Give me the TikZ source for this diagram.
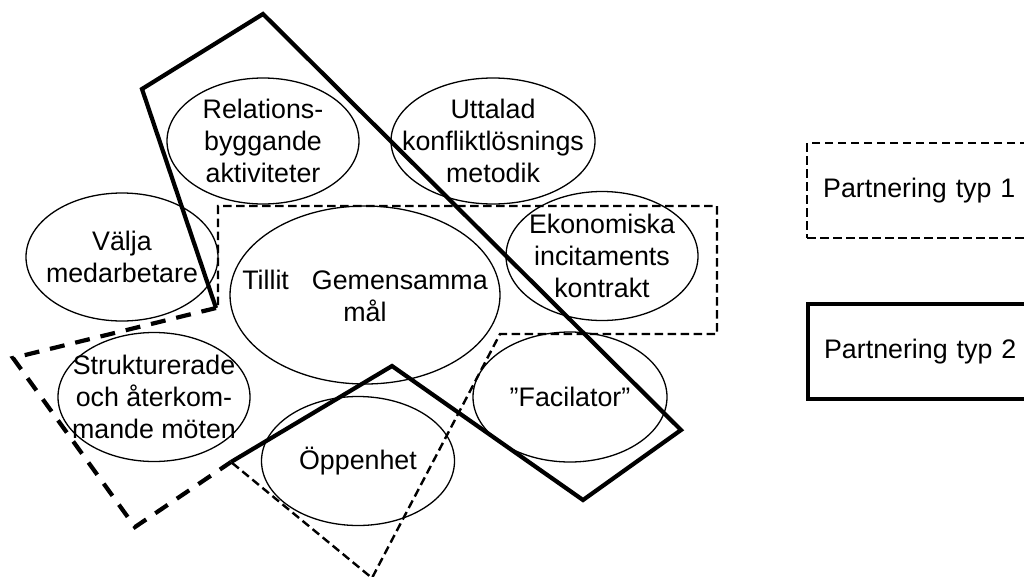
\documentclass[tikz,border=0pt]{standalone}
\usepackage{fontspec}
\setmainfont{Liberation Sans}
\usetikzlibrary{shapes.geometric}

\tikzset{
  blob/.style={draw, ellipse, line width=1.3pt, inner sep=0pt},
  lbl/.style={font=\fontsize{26.8}{32}\selectfont, align=center, inner sep=0pt},
  typone/.style={line width=2.4pt, dash pattern=on 8.5pt off 4.5pt, line join=miter},
  typonebold/.style={line width=4.2pt, dash pattern=on 15pt off 11pt, line join=miter},
  typtwo/.style={line width=4.2pt, line join=miter},
  legendbox/.style={rectangle, font=\fontsize{26.8}{32}\selectfont, text width=200pt,
    align=left, inner xsep=16pt, minimum height=95pt, anchor=north west}
}

\begin{document}
\begin{tikzpicture}[x=1pt, y=-1pt]
  \useasboundingbox (0,0) rectangle (1024,576);
  \clip (0,0) rectangle (1024,576);

  % factor ellipses
  \node[blob, minimum width=192pt, minimum height=126pt] (rel) at (263,141) {};
  \node[lbl] (relt) at (rel.center) {Relations-\\byggande\\aktiviteter};

  \node[blob, minimum width=204pt, minimum height=126pt] (utt) at (493,141) {};
  \node[lbl] (uttt) at (utt.center) {Uttalad\\konfliktlösnings\\metodik};

  \node[blob, minimum width=192pt, minimum height=128pt] (val) at (122,257) {};
  \node[lbl] (valt) at (val.center) {Välja\\medarbetare};

  \node[blob, minimum width=270pt, minimum height=178pt] (gem) at (365,295) {};
  \node[lbl] (gemt) at ([yshift=-1pt]gem.center) {Tillit\hspace{23pt}Gemensamma\\mål};

  \node[blob, minimum width=192pt, minimum height=129pt] (eko) at (602,256) {};
  \node[lbl] (ekot) at (eko.center) {Ekonomiska\\incitaments\\kontrakt};

  \node[blob, minimum width=192pt, minimum height=129pt] (str) at (154,397) {};
  \node[lbl] (strt) at (str.center) {Strukturerade\\och återkom-\\mande möten};

  \node[blob, minimum width=193pt, minimum height=129pt] (opp) at (358,461) {};
  \node[lbl] (oppt) at (opp.center) {Öppenhet};

  \node[blob, minimum width=194pt, minimum height=130pt] (fac) at (570,397) {};
  \node[lbl] (fact) at (fac.center) {”Facilator”};

  % corner points of the grouping outlines
  \coordinate (j1) at (216,308);
  \coordinate (j2) at (231,462);
  \coordinate (a1) at (218,206);
  \coordinate (a2) at (717,206);
  \coordinate (a3) at (717,334);
  \coordinate (a4) at (500,334);
  \coordinate (a5) at (372,578);
  \coordinate (b1) at (13,358);
  \coordinate (b2) at (135,527);
  \coordinate (c1) at (392,366);
  \coordinate (c2) at (583,500);
  \coordinate (c3) at (681,430);
  \coordinate (c4) at (263,14);
  \coordinate (c5) at (142,89);

  % partnering type 1 outline
  \draw[typone] (218,305) -- (a1) -- (a2) -- (a3) -- (a4) -- (a5) -- (j2);
  \draw[typonebold] (j1) -- (b1) -- (b2) -- (j2);

  % partnering type 2 outline
  \draw[typtwo] (j2) -- (c1) -- (c2) -- (c3) -- (c4) -- (c5) -- (j1);

  % legend
  \node[legendbox, draw, typone] (leg1) at (806,142) {Partnering typ 1};
  \node[legendbox, draw, typtwo] (leg2) at (806,302) {Partnering typ 2};
\end{tikzpicture}
\end{document}
